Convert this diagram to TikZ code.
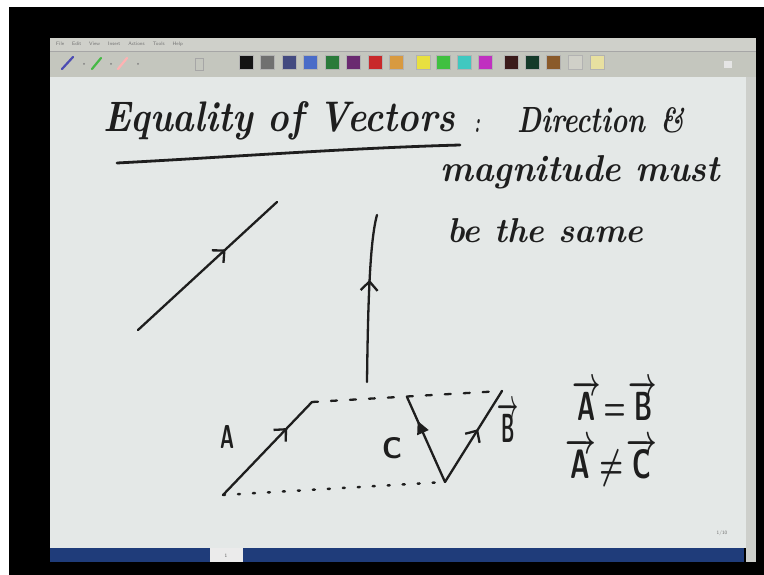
\documentclass[tikz,border=0pt]{standalone}
\usepackage{fontspec}
\usepackage{graphicx}
\usetikzlibrary{arrows.meta,decorations.markings}
\definecolor{inkc}{HTML}{1E1E1E}
\definecolor{canvasc}{HTML}{E4E8E7}
\definecolor{menuc}{HTML}{CFD0CA}
\definecolor{toolc}{HTML}{C4C6BE}
\definecolor{barc}{HTML}{1F3C7A}
\definecolor{scrollc}{HTML}{CDCFCB}
\newcommand{\hwtext}[3]{\resizebox{#1}{#2}{\fontsize{20}{20}\selectfont\bfseries\itshape #3}}
\tikzset{
  hw/.style={inner sep=0pt, text=inkc},
  ink/.style={draw=inkc, line width=2.3pt, line cap=round, line join=round},
  dashedink/.style={draw=inkc, line width=2.3pt, line cap=round, dash pattern=on 6pt off 13pt},
  dottedink/.style={draw=inkc, line width=2.5pt, line cap=round, dash pattern=on 2pt off 13pt},
  barbat/.style={postaction={decorate}, decoration={markings, mark=at position #1 with {\arrow{Straight Barb[length=9pt,width=17pt,line width=2.3pt]}}}},
  triat/.style={postaction={decorate}, decoration={markings, mark=at position #1 with {\arrow{Triangle[length=13pt,width=12pt]}}}},
  swatch/.style={minimum width=14pt, minimum height=14pt, inner sep=0pt, fill=#1, draw=black!30, line width=0.3pt}
}
\begin{document}
\begin{tikzpicture}[x=1pt,y=-1pt]
\useasboundingbox (0,0) rectangle (764,575);
% outer frame
\fill[white] (0,0) rectangle (764,575);
\fill[black] (9,7) rectangle (764,575);
% screen parts
\fill[menuc] (50,38) rectangle (756,51);
\fill[toolc] (50,51) rectangle (756,77);
\draw[black!35, line width=0.5pt] (50,51) -- (756,51);
\fill[canvasc] (50,77) rectangle (746,548);
\fill[scrollc] (746,77) rectangle (756,562);
\fill[barc] (50,548) rectangle (744,562);
\fill[white!92!black] (210,548) rectangle (243,562);
\node[inner sep=0pt, font=\fontsize{5}{5}\selectfont\sffamily, text=black!60] (tabno) at (226,556) {1};
\node[inner sep=0pt, font=\fontsize{5}{5}\selectfont\sffamily, text=black!55] (page) at (722,533) {1/10};
% menu text
\node[anchor=west, inner sep=0pt, text=black!55, font=\fontsize{5}{5}\selectfont\sffamily] (menu) at (56,44.5) {File\hspace{8pt}Edit\hspace{8pt}View\hspace{8pt}Insert\hspace{8pt}Actions\hspace{8pt}Tools\hspace{8pt}Help};
% toolbar pens
\draw[line width=2.2pt, color=blue!40!gray, line cap=round] (62,69) -- (73,57);
\draw[line width=2.2pt, color=green!45!gray, line cap=round] (92,69) -- (101,58);
\draw[line width=2.2pt, color=red!30!white, line cap=round] (118,69) -- (127,58);
\fill[gray] (84,64) circle (1pt) (111,64) circle (1pt) (138,64) circle (1pt);
\draw[gray!70, line width=0.6pt] (195,58) rectangle (203,70);
\fill[white!90!black] (724,61) rectangle (732,68);
% colour swatches
\foreach \cx/\col [count=\i] in {246/141414,267/707070,289/434A80,310/4A6CC8,332/2A7A3A,353/6A2A70,375/C8282A,396/D89A40,423/E8E040,443/40C040,464/40C8C0,485/C030C0,511/3A1A1A,532/143A2A,553/8A5A2A,575/D0D0C8,597/E8E0A0}{
  \definecolor{sw\i}{HTML}{\col}
  \node[swatch=sw\i] (sw\i) at (\cx,62.5) {};
}
% title
\node[hw, anchor=base west] (title) at (103,132) {\hwtext{352pt}{30pt}{Equality of Vectors}};
\coordinate (ul1) at (117,163);
\coordinate (ul2) at (460,145);
\draw[ink, line width=2.8pt] (ul1) .. controls (230,157) and (350,148) .. (ul2);
\node[hw, anchor=base west] (colon) at (474,133) {\hwtext{6pt}{13pt}{:}};
\node[hw, anchor=base west] (dir) at (517,133) {\hwtext{128pt}{25pt}{Direction}};
\node[hw, anchor=base west] (amp) at (660,133) {\hwtext{24pt}{25pt}{\&}};
\node[hw, anchor=base west] (mag) at (440,182) {\hwtext{280pt}{26pt}{magnitude must}};
\node[hw, anchor=base west] (same) at (447,242) {\hwtext{196pt}{24pt}{be the same}};
% free vectors
\coordinate (d1) at (138,330);
\coordinate (d2) at (277,202);
\draw[ink, barbat=0.63] (d1) -- (d2);
\coordinate (v1) at (367,382);
\coordinate (v2) at (377,215);
\draw[ink, barbat=0.61] (v1) .. controls (368,300) and (370,240) .. (v2);
% parallelogram figure
\coordinate (a0) at (223,495);
\coordinate (a1) at (312,402);
\coordinate (bt) at (502,391);
\coordinate (vx) at (445,482);
\coordinate (ct) at (407,397);
\draw[dashedink] (a1) -- (bt);
\draw[dottedink] (a0) -- (vx);
\draw[ink, barbat=0.72] (a0) -- (a1);
\draw[ink, barbat=0.58] (vx) -- (bt);
\draw[ink, triat=0.72] (vx) -- (ct);
% labels
\node[hw, anchor=base west] (lA) at (220,448) {\resizebox{14pt}{23pt}{\sffamily\bfseries A}};
\node[hw, anchor=base west] (lC) at (382,458) {\resizebox{20pt}{21pt}{\sffamily\bfseries C}};
\node[hw, anchor=base west] (lB) at (497,442) {\resizebox{21pt}{40pt}{\boldmath$\overrightarrow{\mathsf{B}}$}};
\node[hw, anchor=base west] (eq1) at (572,420) {\resizebox{85pt}{40pt}{\boldmath$\overrightarrow{\mathsf{A}}\!=\!\overrightarrow{\mathsf{B}}$}};
\node[hw, anchor=base west] (eq2) at (565,478) {\resizebox{92pt}{41pt}{\boldmath$\overrightarrow{\mathsf{A}}\!\neq\!\overrightarrow{\mathsf{C}}$}};
\end{tikzpicture}
\end{document}
